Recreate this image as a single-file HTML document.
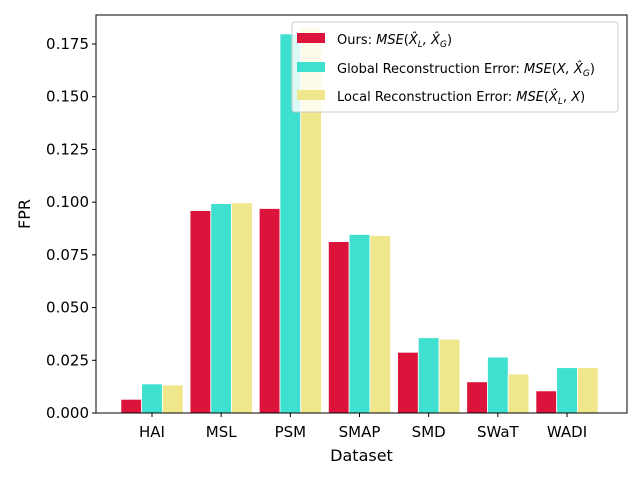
<!DOCTYPE html>
<html><head><meta charset="utf-8"><style>
body{margin:0;background:#fff}
svg text{font-family:"DejaVu Sans","Liberation Sans",sans-serif}
</style></head><body>
<svg id="chart" width="640" height="480" xmlns="http://www.w3.org/2000/svg">
<g id="bars"></g>
<g id="axes"></g>
<g>
<rect x="292" y="22" width="326" height="90" rx="3" fill="#fff" fill-opacity="0.8" stroke="#ccc"/>
<rect x="297" y="33" width="28" height="10" fill="#DC143C"/>
<text x="337" y="44" font-size="13">Ours: <tspan font-style="italic">MSE</tspan>(<tspan font-style="italic">X̂<tspan font-size="9" dy="3">L</tspan><tspan dy="-3">, X̂</tspan><tspan font-size="9" dy="3">G</tspan></tspan><tspan dy="-3">)</tspan></text>
<rect x="297" y="62" width="28" height="10" fill="#40E0D0"/>
<text x="337" y="73" font-size="13">Global Reconstruction Error: <tspan font-style="italic">MSE</tspan>(<tspan font-style="italic">X, X̂</tspan><tspan font-style="italic" font-size="9" dy="3">G</tspan><tspan dy="-3">)</tspan></text>
<rect x="297" y="90" width="28" height="10" fill="#F0E68C"/>
<text x="337" y="101" font-size="13">Local Reconstruction Error: <tspan font-style="italic">MSE</tspan>(<tspan font-style="italic">X̂</tspan><tspan font-style="italic" font-size="9" dy="3">L</tspan><tspan dy="-3">, </tspan><tspan font-style="italic">X</tspan>)</text>
</g>
</svg>
<script>
const categories=["HAI","MSL","PSM","SMAP","SMD","SWaT","WADI"];
const oursValues=[0.0065,0.096,0.097,0.0813,0.0288,0.0148,0.0105];
const globalValues=[0.0138,0.0993,0.1798,0.0847,0.0357,0.0265,0.0215];
const localValues=[0.0133,0.0997,0.183,0.0842,0.0350,0.0185,0.0215];
const yTicks=[0,0.025,0.05,0.075,0.1,0.125,0.15,0.175];
const NS="http://www.w3.org/2000/svg";
const L=96,R=627,T=15,B=413;
const y=v=>B-v/0.025*52.71;
const xc=i=>152+i*69.17;
function mk(tag,attrs,parent){const e=document.createElementNS(NS,tag);for(const k in attrs)e.setAttribute(k,attrs[k]);parent.appendChild(e);return e;}
const bars=document.getElementById('bars'),axes=document.getElementById('axes');
const series=[[oursValues,"#DC143C",-1,"ours"],[globalValues,"#40E0D0",0,"global"],[localValues,"#F0E68C",1,"local"]];
const bw=20.75;
series.forEach(([vals,col,off,nm])=>{vals.forEach((v,i)=>{
const r=mk('rect',{x:xc(i)+off*bw-bw/2,y:y(v),width:bw,height:B-y(v),fill:col,stroke:"#fff","stroke-width":0.8},bars);


});});
const frame=mk('rect',{x:L,y:T,width:R-L,height:B-T,fill:"none",stroke:"#000","stroke-width":1},axes);


yTicks.forEach(t=>{
mk('line',{x1:L-4,x2:L,y1:y(t),y2:y(t),stroke:"#000"},axes);
const tx=mk('text',{x:L-7,y:y(t)+5,"text-anchor":"end","font-size":15},axes);tx.textContent=t.toFixed(3);


});
categories.forEach((c,i)=>{
mk('line',{x1:xc(i),x2:xc(i),y1:B,y2:B+4,stroke:"#000"},axes);
const tx=mk('text',{x:xc(i),y:B+24,"text-anchor":"middle","font-size":15},axes);tx.textContent=c;


});
const xt=mk('text',{x:(L+R)/2,y:461,"text-anchor":"middle","font-size":16},axes);xt.textContent="Dataset";


const yt=mk('text',{x:30,y:(T+B)/2,"text-anchor":"middle","font-size":16,transform:`rotate(-90 30 ${(T+B)/2})`},axes);yt.textContent="FPR";


</script>
</body></html>
